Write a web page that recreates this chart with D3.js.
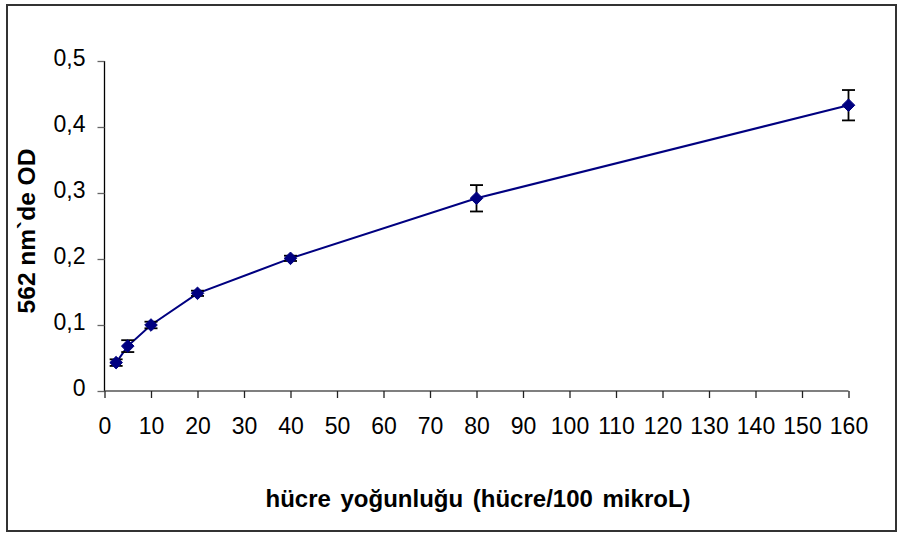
<!DOCTYPE html>
<html>
<head>
<meta charset="utf-8">
<script src="https://cdn.jsdelivr.net/npm/d3@7"></script>
<style>
  html, body { margin: 0; padding: 0; background: #fff; }
  svg { display: block; font-family: "Liberation Sans", Arial, sans-serif; }
</style>
</head>
<body>
<svg id="chart" width="901" height="534"></svg>
<script>
// Cell density (cells / 100 µL) vs optical density at 562 nm
const density = [2.5, 5, 10, 20, 40, 80, 160];
const odMean  = [0.043, 0.068, 0.100, 0.148, 0.201, 0.292, 0.433];
const odError = [0.005, 0.009, 0.005, 0.004, 0.004, 0.020, 0.023];
const xTicks = [0, 10, 20, 30, 40, 50, 60, 70, 80, 90, 100, 110, 120, 130, 140, 150, 160];
const yTicks = [0, 0.1, 0.2, 0.3, 0.4, 0.5];
const xTitle = "hücre yoğunluğu (hücre/100 mikroL)";
const yTitle = "562 nm`de OD";

const svg = d3.select("#chart");
const FONT = "Liberation Sans, Arial, sans-serif";

// outer frame
svg.append("rect")
  .attr("x", 7).attr("y", 5).attr("width", 889).attr("height", 526)
  .attr("fill", "#fff").attr("stroke", "#333").attr("stroke-width", 2);

const x = d3.scaleLinear().domain([0, 160]).range([104.5, 848.5]);
const y = d3.scaleLinear().domain([0, 0.5]).range([391, 61]);

const fmt = d => d === 0 ? "0" : d3.format(".1f")(d).replace(".", ",");

// y axis
const yAxis = svg.append("g").attr("transform", `translate(${x(0)},0)`)
  .call(d3.axisLeft(y).tickValues(yTicks).tickSize(7).tickPadding(12).tickFormat(fmt));
yAxis.select(".domain").attr("stroke", "#000").attr("stroke-width", 1.3)
  .attr("d", `M0,${y(0.5)}V${y(0)}`);
yAxis.selectAll(".tick line").attr("stroke", "#666").attr("stroke-width", 1.3);
yAxis.selectAll("text").attr("font-size", 23).attr("fill", "#000")
  .attr("font-family", FONT).attr("dy", "0.2em");

// x axis
const xAxis = svg.append("g").attr("transform", `translate(0,${y(0)})`)
  .call(d3.axisBottom(x).tickValues(xTicks).tickSize(7));
xAxis.select(".domain").attr("stroke", "#555").attr("stroke-width", 1.3)
  .attr("d", `M${x(0)},0H${x(160)}`);
xAxis.selectAll(".tick line").attr("stroke", "#222").attr("stroke-width", 1.3);
xAxis.selectAll("text").attr("font-size", 23).attr("fill", "#000")
  .attr("font-family", FONT).attr("y", 43).attr("dy", 0);

// titles
svg.append("text")
  .attr("x", 478).attr("y", 507).attr("text-anchor", "middle")
  .attr("font-size", 24).attr("font-weight", "bold").attr("word-spacing", 3)
  .text(xTitle);
svg.append("text")
  .attr("transform", `translate(35,231) rotate(-90)`)
  .attr("text-anchor", "middle")
  .attr("font-size", 24.5).attr("font-weight", "bold")
  .text(yTitle);

const pts = density.map((d, i) => ({ x: d, y: odMean[i], e: odError[i] }));

// connecting line
svg.append("path").datum(pts)
  .attr("fill", "none").attr("stroke", "#000080").attr("stroke-width", 2)
  .attr("d", d3.line().x(d => x(d.x)).y(d => y(d.y)));

// error bars
const eb = svg.append("g").attr("stroke", "#000").attr("stroke-width", 1.8);
pts.forEach(d => {
  const cx = x(d.x), y1 = y(d.y + d.e), y2 = y(d.y - d.e);
  eb.append("line").attr("x1", cx).attr("x2", cx).attr("y1", y1).attr("y2", y2);
  eb.append("line").attr("x1", cx - 6.5).attr("x2", cx + 6.5).attr("y1", y1).attr("y2", y1);
  eb.append("line").attr("x1", cx - 6.5).attr("x2", cx + 6.5).attr("y1", y2).attr("y2", y2);
});

// diamond markers
const s = 6.3;
svg.append("g").selectAll("path").data(pts).join("path")
  .attr("d", d => `M${x(d.x)},${y(d.y) - s}L${x(d.x) + s},${y(d.y)}L${x(d.x)},${y(d.y) + s}L${x(d.x) - s},${y(d.y)}Z`)
  .attr("fill", "#000080").attr("stroke", "#000080").attr("stroke-width", 1);
</script>
</body>
</html>
